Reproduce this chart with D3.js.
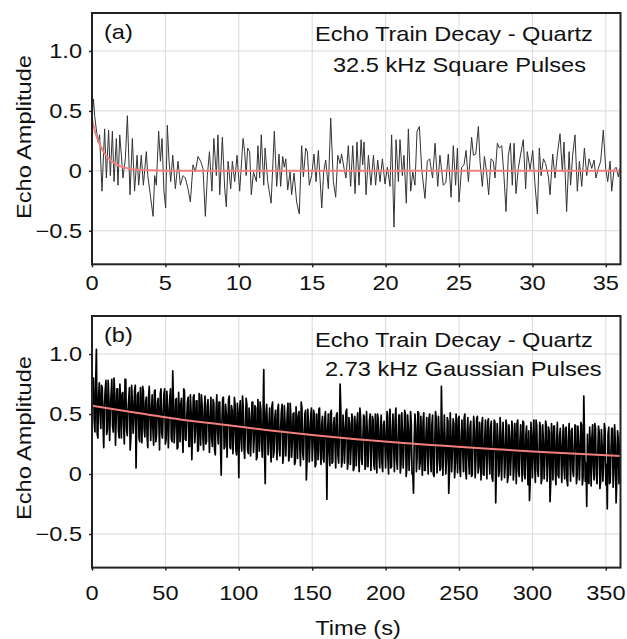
<!DOCTYPE html>
<html>
<head>
<meta charset="utf-8">
<script src="https://cdn.jsdelivr.net/npm/d3@7"></script>
<style>
  body { margin: 0; background: #fff; }
  text { font-family: "Liberation Sans", Arial, Helvetica, sans-serif; fill: #111; }
</style>
</head>
<body>
<div id="chart"></div>
<script>
// ---- data ----
// (a) 32.5 kHz square pulses, time in s
const aTime = [0,0.1,0.18,0.4,0.52,0.68,0.86,0.98,1.13,1.25,1.39,1.5,1.66,1.77,1.89,2,2.11,2.27,2.41,2.59,2.75,2.9,3.07,3.18,3.36,3.5,3.7,3.8,3.97,4.16,4.27,4.38,4.54,4.66,4.77,4.9,5.02,5.13,5.25,5.36,5.5,5.68,5.86,6.02,6.2,6.36,6.54,6.7,6.88,7.04,7.22,7.4,7.56,7.72,7.86,8,8.17,8.3,8.47,8.58,8.7,8.88,9.04,9.15,9.27,9.45,9.56,9.72,9.88,10.06,10.29,10.4,10.5,10.6,10.74,10.85,11,11.2,11.3,11.42,11.53,11.7,11.79,11.97,12.2,12.42,12.58,12.74,12.85,12.99,13.1,13.2,13.33,13.49,13.6,13.76,13.94,14.12,14.28,14.4,14.56,14.67,14.8,14.96,15.12,15.26,15.42,15.65,15.78,15.92,16.1,16.26,16.44,16.6,16.74,16.9,17,17.17,17.3,17.46,17.62,17.76,17.92,18.05,18.19,18.33,18.44,18.53,18.67,18.83,19,19.17,19.32,19.46,19.62,19.78,19.96,20.12,20.3,20.41,20.57,20.71,20.87,20.98,21.14,21.25,21.41,21.55,21.71,21.85,22,22.14,22.3,22.46,22.68,22.84,23,23.2,23.37,23.55,23.7,23.93,24.1,24.27,24.46,24.61,24.77,24.89,25,25.18,25.34,25.48,25.64,25.86,25.98,26.14,26.32,26.43,26.59,26.73,26.88,27.02,27.18,27.34,27.45,27.61,27.75,27.91,28.07,28.2,28.36,28.5,28.63,28.75,28.88,29.04,29.2,29.38,29.54,29.65,29.84,30.02,30.16,30.34,30.47,30.59,30.75,30.9,31.09,31.2,31.38,31.54,31.7,31.88,32.04,32.15,32.33,32.5,32.6,32.74,32.9,33.06,33.2,33.36,33.54,33.7,33.86,34.04,34.2,34.33,34.49,34.65,34.83,34.99,35.13,35.29,35.4,35.56,35.7,35.85,35.97];
const aEcho = [0.45,0.6,0.46,0.24,0.3,-0.17,0.35,-0.06,0.34,-0.04,0.33,-0.09,0.27,-0.12,0.3,0.13,-0.06,0.1,0.46,-0.2,0.27,-0.17,0.13,-0.12,0.13,-0.12,0.16,-0.04,-0.2,-0.38,-0.04,-0.12,0.33,0.08,0.27,-0.17,-0.31,0.38,0.08,-0.09,0.13,-0.15,0.08,-0.12,-0.04,-0.06,-0.15,-0.26,0.05,-0.01,0.12,0.08,0.02,-0.38,-0.04,0.16,-0.17,0.27,-0.04,0.3,-0.2,0.28,-0.15,-0.3,0.08,-0.15,0.08,-0.09,0.13,-0.17,0.27,0.16,-0.04,0.19,0.16,-0.2,-0.01,-0.09,0.21,-0.06,0.3,-0.12,0.19,-0.09,-0.27,0.33,-0.13,0.14,-0.13,0.12,0.03,0.1,-0.16,-0.01,-0.2,-0.02,-0.26,-0.36,0.21,-0.05,0.19,0.16,-0.12,-0.04,0.14,-0.09,0.17,-0.31,-0.01,0.09,-0.15,0.44,-0.09,-0.22,0.13,0.06,0.14,0.02,-0.06,0.21,-0.13,0.21,-0.19,0.24,-0.12,0.26,0.05,0.24,-0.2,0.13,-0.12,0.13,-0.12,0.09,-0.09,0.1,-0.11,0.03,-0.13,0.3,-0.47,0.26,-0.09,0.26,-0.04,0.13,-0.27,0.35,-0.17,-0.01,-0.12,0.33,0.37,0.01,-0.23,0.08,0.1,-0.06,0.23,-0.13,0.13,-0.12,-0.1,0.14,-0.22,0.21,-0.12,0.19,-0.26,0.03,0.05,0.17,-0.09,0.28,0.13,0.14,0.37,0.08,-0.13,0.12,-0.01,-0.2,0.1,0.08,-0.06,0.23,0.19,0.21,-0.06,-0.34,0.13,0.23,-0.12,0.23,-0.19,0.02,0.14,0.26,-0.15,0.16,0.01,0.17,-0.09,-0.36,0.19,-0.04,0.1,0.06,-0.05,-0.2,0.14,-0.06,0.14,0.31,-0.01,0.24,-0.34,0.16,-0.12,0.13,0.3,-0.17,0.08,-0.13,0.19,-0.04,0.1,0.02,0.09,-0.06,0.02,0.08,0.34,0.02,-0.09,0.08,-0.17,0.01,0.03,-0.05,0.02];
const aFitTime = [0, 0.25, 0.5, 0.75, 1, 1.5, 2, 2.5, 3, 4, 5, 7, 36];
const aFitEcho = [0.43, 0.31, 0.23, 0.165, 0.12, 0.065, 0.035, 0.02, 0.01, 0.004, 0.001, 0, 0];

// (b) 2.73 kHz Gaussian pulses, values on whole seconds 0..360 s
const bEcho = [
  0.62,0.80,0.35,1.04,0.30,0.76,0.38,0.72,0.22,0.70,
  0.33,0.78,0.28,0.66,0.40,0.80,0.24,0.71,0.36,0.75,
  0.30,0.68,0.25,0.79,0.32,0.62,0.20,0.74,0.34,0.70,
  0.05,0.66,0.30,0.72,0.26,0.69,0.31,0.64,0.22,0.73,
  0.28,0.66,0.24,0.70,0.33,0.63,0.20,0.71,0.30,0.67,
  0.25,0.69,0.22,0.64,0.30,0.86,0.26,0.62,0.21,0.68,
  0.27,0.63,0.18,0.69,0.28,0.60,0.23,0.66,0.12,0.64,
  0.26,0.61,0.19,0.67,0.24,0.58,0.20,0.65,0.27,0.62,
  0.18,0.64,0.23,0.59,0.16,0.66,0.25,0.60,-0.01,0.63,
  0.21,0.58,0.14,0.62,0.22,0.57,0.17,0.64,0.20,0.59,
  -0.03,0.61,0.19,0.56,0.13,0.63,0.20,0.55,0.15,0.60,
  0.18,0.57,0.12,0.62,0.19,0.54,0.14,0.87,-0.08,0.58,
  0.16,0.55,0.10,0.60,0.18,0.53,0.12,0.58,0.15,0.52,
  0.09,0.57,0.15,0.51,0.11,0.59,0.14,0.50,0.08,0.56,
  0.13,0.52,0.07,0.55,0.12,0.50,-0.05,0.54,0.10,0.49,
  0.11,0.53,0.06,0.50,0.12,0.55,0.08,0.48,0.10,0.52,
  -0.21,0.50,0.07,0.53,0.10,0.47,0.05,0.51,0.09,0.75,
  0.06,0.49,0.09,0.52,0.04,0.47,0.08,0.50,0.03,0.48,
  0.07,0.51,0.02,0.46,0.08,0.49,0.04,0.52,0.06,0.45,
  0.03,0.48,0.07,0.50,0.01,0.46,0.05,0.49,0.02,0.44,
  0.05,0.52,0.00,0.54,0.06,0.50,0.02,0.55,0.04,0.49,
  0.01,0.51,0.05,0.53,-0.02,0.49,0.03,0.52,0.00,-0.16,
  0.50,0.02,0.52,0.04,0.48,-0.01,0.51,0.03,0.47,0.00,
  0.50,0.02,0.49,-0.02,0.52,0.01,0.48,0.03,0.73,-0.01,
  0.49,0.00,0.47,-0.16,0.51,0.02,0.46,-0.03,0.50,0.01,
  0.48,-0.02,0.45,0.02,0.50,-0.04,0.47,0.00,0.44,-0.01,
  0.48,-0.03,0.46,0.01,0.43,-0.05,0.47,-0.01,0.45,-0.04,
  0.46,0.00,0.44,-0.06,0.45,-0.24,0.42,-0.02,0.47,-0.05,
  0.43,-0.03,0.45,-0.07,0.41,-0.01,0.44,-0.05,0.42,-0.08,
  0.45,-0.02,0.41,-0.06,0.43,-0.04,0.40,-0.09,-0.22,0.43,
  -0.03,0.45,-0.07,0.40,-0.02,0.43,-0.08,0.41,-0.04,0.44,
  -0.06,0.39,-0.23,0.42,-0.05,0.40,-0.09,0.43,-0.03,0.38,
  -0.07,0.41,-0.04,0.39,-0.10,0.42,-0.06,0.38,-0.02,0.41,
  -0.08,0.40,-0.05,0.43,-0.09,0.65,-0.06,-0.27,-0.03,0.39,
  -0.10,0.41,-0.05,0.38,-0.08,0.40,-0.12,0.37,-0.06,0.42,
  -0.09,-0.29,0.39,-0.07,0.38,-0.11,0.41,-0.24,0.36,-0.08,0.35
];
// values on the half seconds 0.5..359.5 s
const bEchoHalf = [
  0.61,0.44,0.76,0.34,0.66,0.51,0.74,0.41,0.58,0.78,
  0.37,0.63,0.53,0.79,0.35,0.67,0.47,0.71,0.30,0.59,
  0.67,0.43,0.79,0.37,0.53,0.72,0.31,0.60,0.47,0.74,
  0.43,0.68,0.27,0.54,0.73,0.38,0.60,0.32,0.64,0.48,
  0.54,0.37,0.69,0.27,0.59,0.44,0.67,0.34,0.51,0.71,
  0.29,0.55,0.45,0.71,0.27,0.59,0.39,0.63,0.22,0.51,
  0.59,0.35,0.71,0.29,0.45,0.64,0.23,0.52,0.39,0.66,
  0.36,0.61,0.20,0.47,0.66,0.31,0.53,0.25,0.57,0.41,
  0.47,0.30,0.62,0.20,0.52,0.37,0.60,0.27,0.44,0.64,
  0.23,0.49,0.39,0.65,0.21,0.53,0.33,0.57,0.16,0.45,
  0.53,0.29,0.65,0.23,0.39,0.58,0.17,0.46,0.33,0.60,
  0.30,0.55,0.14,0.41,0.60,0.25,0.47,0.19,0.51,0.35,
  0.41,0.24,0.56,0.14,0.46,0.31,0.54,0.21,0.38,0.58,
  0.17,0.43,0.33,0.59,0.15,0.47,0.27,0.51,0.10,0.39,
  0.48,0.24,0.60,0.18,0.34,0.53,0.12,0.41,0.28,0.55,
  0.24,0.49,0.08,0.35,0.54,0.19,0.41,0.13,0.45,0.29,
  0.36,0.19,0.51,0.09,0.41,0.26,0.49,0.16,0.33,0.53,
  0.12,0.38,0.28,0.54,0.10,0.42,0.22,0.46,0.05,0.34,
  0.43,0.19,0.55,0.13,0.29,0.48,0.07,0.36,0.23,0.50,
  0.20,0.45,0.04,0.31,0.50,0.15,0.37,0.09,0.41,0.25,
  0.32,0.15,0.47,0.05,0.37,0.22,0.45,0.12,0.29,0.49,
  0.08,0.34,0.24,0.50,0.06,0.38,0.18,0.42,0.01,0.30,
  0.39,0.15,0.51,0.09,0.25,0.44,0.03,0.32,0.19,0.46,
  0.16,0.41,0.00,0.27,0.46,0.11,0.33,0.05,0.37,0.21,
  0.29,0.12,0.44,0.02,0.34,0.19,0.42,0.09,0.26,0.46,
  0.05,0.31,0.21,0.47,0.03,0.35,0.15,0.39,-0.02,0.27,
  0.36,0.12,0.48,0.06,0.22,0.41,0.00,0.29,0.16,0.43,
  0.13,0.38,-0.03,0.24,0.43,0.08,0.30,0.02,0.34,0.18,
  0.25,0.08,0.40,-0.02,0.30,0.15,0.38,0.05,0.22,0.42,
  0.02,0.28,0.18,0.44,0.00,0.32,0.12,0.36,-0.06,0.24,
  0.33,0.09,0.45,0.03,0.19,0.38,-0.03,0.26,0.13,0.40,
  0.10,0.35,-0.06,0.21,0.40,0.05,0.27,-0.01,0.31,0.15,
  0.23,0.06,0.38,-0.05,0.28,0.13,0.36,0.03,0.20,0.40,
  -0.01,0.25,0.15,0.41,-0.03,0.29,0.09,0.33,-0.08,0.21,
  0.30,0.06,0.42,0.00,0.16,0.35,-0.06,0.23,0.10,0.37,
  0.08,0.33,-0.08,0.19,0.38,0.03,0.25,-0.03,0.29,0.13
];
const bFitTime = [0, 30, 60, 90, 120, 150, 180, 210, 240, 270, 300, 330, 360];
const bFitEcho = [0.57, 0.51, 0.455, 0.41, 0.365, 0.325, 0.29, 0.26, 0.235, 0.21, 0.188, 0.168, 0.15];

const aXTicks = [0, 5, 10, 15, 20, 25, 30, 35];
const bXTicks = [0, 50, 100, 150, 200, 250, 300, 350];
const yTicks = [1.0, 0.5, 0, -0.5];
const yTickLabels = ["1.0", "0.5", "0", "\u22120.5"];

// ---- layout ----
const W = 627, H = 639;
const left = 92, right = 620.5;
const FONT = 20, SX = 1.18; // glyphs in the figure run wide

const svg = d3.select("#chart").append("svg")
  .attr("width", W).attr("height", H);

// text helper: place at (x,y), stretch horizontally
function label(g, x, y, str, anchor, rot) {
  return g.append("text")
    .attr("transform", `translate(${x},${y})${rot ? " rotate(" + rot + ")" : ""} scale(${SX},1)`)
    .attr("text-anchor", anchor || "start")
    .attr("font-size", FONT)
    .text(str);
}

function drawPanel(cfg) {
  const x = d3.scaleLinear().domain([0, cfg.xMax]).range([left, right]);
  const y = d3.scaleLinear().domain([-0.78, 1.317]).range([cfg.bottom, cfg.top]);
  const g = svg.append("g");

  // grid
  g.append("g").selectAll("line").data(cfg.xTicks).join("line")
    .attr("x1", d => x(d)).attr("x2", d => x(d))
    .attr("y1", cfg.top).attr("y2", cfg.bottom)
    .attr("stroke", "#d9d9d9").attr("stroke-width", 1);
  g.append("g").selectAll("line").data(yTicks).join("line")
    .attr("x1", left).attr("x2", right)
    .attr("y1", d => y(d)).attr("y2", d => y(d))
    .attr("stroke", "#d9d9d9").attr("stroke-width", 1);

  // clip to the frame
  const clipId = "clip-" + cfg.name;
  svg.append("clipPath").attr("id", clipId).append("rect")
    .attr("x", left).attr("y", cfg.top)
    .attr("width", right - left).attr("height", cfg.bottom - cfg.top);
  const plot = g.append("g").attr("clip-path", `url(#${clipId})`);

  // echo trace
  const trace = d3.line().x(d => x(d[0])).y(d => y(d[1]));
  plot.append("path")
    .datum(cfg.points)
    .attr("fill", "none")
    .attr("stroke", cfg.traceColor)
    .attr("stroke-width", cfg.traceWidth)
    .attr("stroke-linejoin", "round")
    .attr("d", trace);

  // fitted decay
  const fit = d3.line().x(d => x(d[0])).y(d => y(d[1])).curve(d3.curveMonotoneX);
  plot.append("path")
    .datum(cfg.fitTimes.map((t, i) => [t, cfg.fitValues[i]]))
    .attr("fill", "none")
    .attr("stroke", "#f47f7f")
    .attr("stroke-width", 2)
    .attr("d", fit);

  // axes (ticks only, labels added by hand so they can be stretched)
  const ya = g.append("g").attr("transform", `translate(${left},0)`)
    .call(d3.axisLeft(y).tickValues(yTicks).tickSize(3).tickFormat(""));
  const xa = g.append("g").attr("transform", `translate(0,${cfg.bottom})`)
    .call(d3.axisBottom(x).tickValues(cfg.xTicks).tickSize(3).tickFormat(""));
  [ya, xa].forEach(a => {
    a.select(".domain").remove();
    a.selectAll("line").attr("stroke", "#222").attr("stroke-width", 1.5);
  });

  yTicks.forEach((v, i) => label(g, 82, y(v) + 7, yTickLabels[i], "end"));
  cfg.xTicks.forEach(v => label(g, x(v), cfg.tickBaseline, String(v), "middle"));

  // frame
  g.append("rect")
    .attr("x", left).attr("y", cfg.top)
    .attr("width", right - left).attr("height", cfg.bottom - cfg.top)
    .attr("fill", "none").attr("stroke", "#222").attr("stroke-width", 2);

  // texts
  label(g, 104, cfg.top + 26, cfg.letter, "start");
  cfg.titles.forEach(t => label(g, t.x, t.y, t.text, "start"));
  label(g, 31, cfg.yLabelCenter, "Echo Amplitude", "middle", -90);
}

drawPanel({
  name: "a", top: 13, bottom: 264.3, xMax: 36, xTicks: aXTicks,
  points: aTime.map((t, i) => [t, aEcho[i]]), traceColor: "#333", traceWidth: 1,
  fitTimes: aFitTime, fitValues: aFitEcho,
  tickBaseline: 290, letter: "(a)", yLabelCenter: 137,
  titles: [
    { text: "Echo Train Decay - Quartz", x: 315, y: 40.7 },
    { text: "32.5 kHz Square Pulses", x: 333, y: 71.7 }
  ]
});

// merge whole-second and half-second samples in time order
const bPoints = [];
bEcho.forEach((v, i) => {
  bPoints.push([i, v]);
  if (i < bEchoHalf.length) bPoints.push([i + 0.5, bEchoHalf[i]]);
});

drawPanel({
  name: "b", top: 316, bottom: 567.6, xMax: 360, xTicks: bXTicks,
  points: bPoints, traceColor: "#000", traceWidth: 1.7,
  fitTimes: bFitTime, fitValues: bFitEcho,
  tickBaseline: 600, letter: "(b)", yLabelCenter: 438,
  titles: [
    { text: "Echo Train Decay - Quartz", x: 315, y: 346.7 },
    { text: "2.73 kHz Gaussian Pulses", x: 325, y: 376 }
  ]
});

label(svg, 358, 635, "Time (s)", "middle");
</script>
</body>
</html>
